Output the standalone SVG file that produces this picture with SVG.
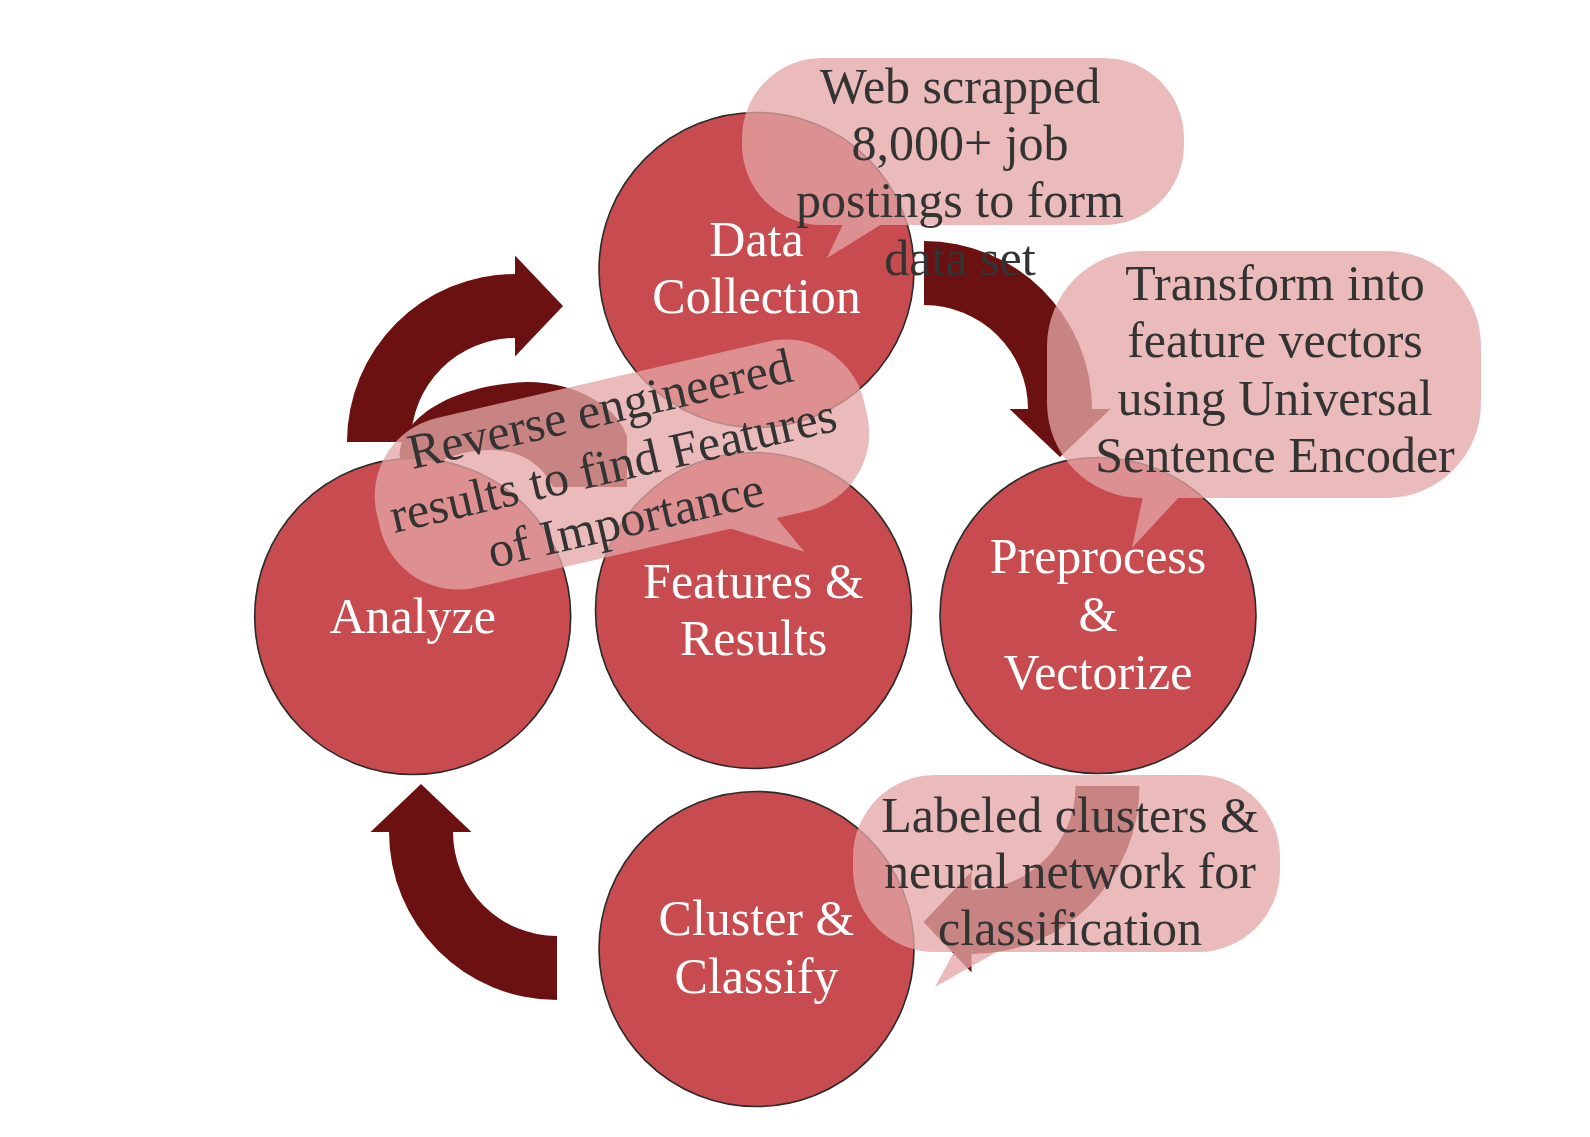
<svg xmlns="http://www.w3.org/2000/svg" width="1590" height="1137" viewBox="0 0 1590 1137">
<style>
.arrow{fill:#6B1111;}
.node circle{fill:#C74B4F;stroke:#2a2a2a;stroke-width:1.6;}
.ntext{font-family:"Liberation Serif","Times New Roman",serif;font-size:50px;fill:#ffffff;text-anchor:middle;}
.bubble{opacity:0.765;}
.bubble rect,.bubble polygon{fill:#E5A6A6;}
.btext{font-family:"Liberation Serif","Times New Roman",serif;font-size:50px;fill:#333333;text-anchor:middle;}
</style>
<rect width="1590" height="1137" fill="#ffffff"/>
<g id="connectors">
  <path class="arrow" d="M 347,442 A 168 168 0 0 1 515,274 L 515,255.5 L 563,306 L 515,356.5 L 515,338 A 104 104 0 0 0 411,442 Z"/>
  <path class="arrow" d="M 924,241 A 168 168 0 0 1 1092,409 L 1110.5,409 L 1060,457 L 1009.5,409 L 1028,409 A 104 104 0 0 0 924,305 Z"/>
  <path class="arrow" d="M 1139.5,786 A 168 168 0 0 1 971.5,954 L 971.5,972.5 L 923.5,922 L 971.5,871.5 L 971.5,890 A 104 104 0 0 0 1075.5,786 Z"/>
  <path class="arrow" d="M 557,1000 A 168 168 0 0 1 389,832 L 370.5,832 L 421,784 L 471.5,832 L 453,832 A 104 104 0 0 0 557,936 Z"/>
  <path class="arrow" d="M 400,462 C 395,420 450,385 527,382 C 580,382 620,410 627,437 L 627,487 L 553,487 C 540,460 515,450 490,450 C 460,450 435,462 427,470 Z"/>
</g>
<g id="node-data-collection" class="node">
  <circle cx="756.5" cy="270" r="157.5"/>
  <text class="ntext" x="756.5" y="256">Data</text>
  <text class="ntext" x="756.5" y="313">Collection</text>
</g>
<g id="node-preprocess" class="node">
  <circle cx="1098" cy="615.5" r="158"/>
  <text class="ntext" x="1098" y="573">Preprocess</text>
  <text class="ntext" x="1098" y="631">&amp;</text>
  <text class="ntext" x="1098" y="689">Vectorize</text>
</g>
<g id="node-features" class="node">
  <circle cx="753.5" cy="610.5" r="158"/>
  <text class="ntext" x="753.5" y="598">Features &amp;</text>
  <text class="ntext" x="753.5" y="655">Results</text>
</g>
<g id="node-analyze" class="node">
  <circle cx="412.7" cy="616.5" r="158"/>
  <text class="ntext" x="412.7" y="633">Analyze</text>
</g>
<g id="node-cluster" class="node">
  <circle cx="756.5" cy="949" r="157.5"/>
  <text class="ntext" x="756.5" y="935">Cluster &amp;</text>
  <text class="ntext" x="756.5" y="993">Classify</text>
</g>
<g id="callout-web">
  <g class="bubble">
    <rect x="742" y="58" width="442" height="167" rx="80"/>
    <polygon points="843,224 827,258 882,224"/>
  </g>
  <text class="btext" x="960" y="103">Web scrapped</text>
  <text class="btext" x="960" y="160">8,000+ job</text>
  <text class="btext" x="960" y="217">postings to form</text>
  <text class="btext" x="960" y="275">data set</text>
</g>
<g id="callout-transform">
  <g class="bubble">
    <rect x="1047" y="251" width="434" height="247" rx="95"/>
    <polygon points="1143,496 1132,548 1180,496"/>
  </g>
  <text class="btext" x="1275" y="300">Transform into</text>
  <text class="btext" x="1275" y="357">feature vectors</text>
  <text class="btext" x="1275" y="415">using Universal</text>
  <text class="btext" x="1275" y="472">Sentence Encoder</text>
</g>
<g id="callout-labeled">
  <g class="bubble">
    <rect x="853" y="775" width="427" height="177" rx="82"/>
    <polygon points="955,950 935,987 1000,950"/>
  </g>
  <text class="btext" x="1070" y="832">Labeled clusters &amp;</text>
  <text class="btext" x="1070" y="888">neural network for</text>
  <text class="btext" x="1070" y="945">classification</text>
</g>
<g id="callout-reverse" transform="translate(622,464.5) rotate(-13)">
  <g class="bubble">
    <rect x="-250" y="-87" width="500" height="174" rx="80"/>
    <polygon points="90,86 158,126 138,86"/>
  </g>
  <text class="btext" x="-9" y="-42.5">Reverse engineered</text>
  <text class="btext" x="-9" y="15.5">results to find Features</text>
  <text class="btext" x="-9" y="71.5">of Importance</text>
</g>
</svg>
